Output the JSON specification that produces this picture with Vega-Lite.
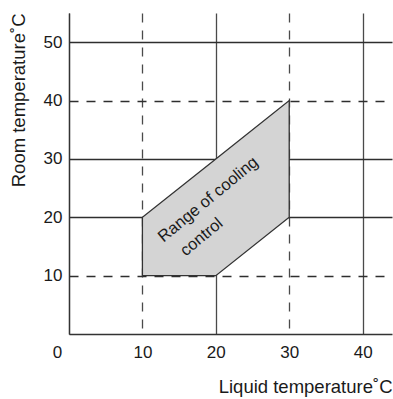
{
  "$schema": "https://vega.github.io/schema/vega-lite/v6.json",
  "width": 323,
  "height": 321,
  "autosize": {"type": "none"},
  "padding": {"left": 69, "top": 13, "right": 1, "bottom": 65},
  "config": {"view": {"stroke": null}, "font": "Liberation Sans"},
  "layer": [
    {
      "data": {"values": [
        {"liquid": 10, "low": 10, "high": 20},
        {"liquid": 20, "low": 10, "high": 30},
        {"liquid": 30, "low": 20, "high": 40}
      ]},
      "mark": {"type": "area", "fill": "#d4d4d4", "fillOpacity": 1, "stroke": "#333333", "strokeWidth": 1.3},
      "encoding": {
        "x": {
          "field": "liquid", "type": "quantitative",
          "scale": {"domain": [0, 44], "nice": false, "zero": false},
          "axis": {
            "values": [0, 10, 20, 30, 40],
            "grid": true, "gridColor": "#4a4a4a", "gridWidth": 1.3,
            "gridDash": {"condition": {"test": "datum.value === 10 || datum.value === 30", "value": [9, 8]}, "value": []},
            "ticks": false, "labelFlush": false,
            "labelPadding": 10, "labelFontSize": 17, "labelColor": "#1a1a1a",
            "labelOffset": {"condition": {"test": "datum.value === 0", "value": -12}, "value": 0},
            "domainColor": "#333333", "domainWidth": 1.3,
            "title": "Liquid temperature˚C", "titleAnchor": "end",
            "titleFontSize": 18.5, "titleFontWeight": "normal", "titleColor": "#1a1a1a", "titlePadding": 17
          }
        },
        "y": {
          "field": "low", "type": "quantitative",
          "scale": {"domain": [0, 55], "nice": false, "zero": false},
          "axis": {
            "values": [10, 20, 30, 40, 50],
            "grid": true, "gridColor": "#2e2e2e", "gridWidth": 1.3,
            "gridDash": {"condition": {"test": "datum.value === 10 || datum.value === 40", "value": [9, 8]}, "value": []},
            "ticks": false,
            "labelPadding": 7, "labelFontSize": 17, "labelColor": "#1a1a1a",
            "domainColor": "#333333", "domainWidth": 1.3,
            "title": "Room temperature˚C", "titleAnchor": "end",
            "titleFontSize": 18.5, "titleFontWeight": "normal", "titleColor": "#1a1a1a", "titlePadding": 15
          }
        },
        "y2": {"field": "high"}
      }
    },
    {
      "data": {"values": [
        {"x": 12.88, "y": 15.64, "label": "Range of cooling"},
        {"x": 15.89, "y": 13.25, "label": "control"}
      ]},
      "mark": {"type": "text", "align": "left", "baseline": "alphabetic", "angle": 320.5, "fontSize": 16.5, "fill": "#1a1a1a"},
      "encoding": {
        "x": {"field": "x", "type": "quantitative"},
        "y": {"field": "y", "type": "quantitative"},
        "text": {"field": "label"}
      }
    }
  ]
}
